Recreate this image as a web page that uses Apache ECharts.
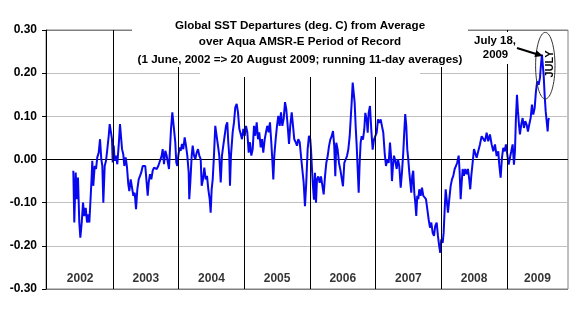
<!DOCTYPE html>
<html><head><meta charset="utf-8">
<script src="https://cdn.jsdelivr.net/npm/echarts/dist/echarts.min.js"></script>
<style>html,body{margin:0;padding:0;background:#fff}#c{width:576px;height:336px}</style>
</head><body><div id="c"></div>
<script>
// decimal-year positions of the running-average keypoints
const years = [
2002.396,2002.411,2002.432,2002.452,2002.467,2002.487,2002.503,2002.524,2002.544,2002.563,2002.585,2002.605,2002.624,2002.640,2002.661,2002.676,2002.685,2002.700,2002.722,2002.742,2002.761,2002.783,2002.803,2002.822,2002.838,2002.853,2002.874,2002.894,2002.914,2002.935,2002.950,2002.970,2002.985,2002.996,
2003.011,2003.026,2003.046,2003.066,2003.087,2003.107,2003.122,2003.138,2003.157,2003.173,2003.194,2003.214,2003.233,2003.249,2003.270,2003.290,2003.310,2003.331,2003.351,2003.371,2003.392,2003.412,2003.431,2003.453,2003.473,2003.492,2003.514,2003.529,2003.544,2003.564,2003.584,2003.605,2003.625,
2003.640,2003.666,2003.690,2003.716,2003.742,2003.757,2003.777,2003.797,2003.818,2003.853,2003.868,2003.884,2003.904,2003.919,2003.934,2003.949,2003.964,2003.980,2003.995,
2004.016,2004.031,2004.051,2004.071,2004.092,2004.112,2004.132,2004.153,2004.162,2004.178,2004.199,2004.214,2004.234,2004.254,2004.275,2004.295,2004.315,2004.336,2004.351,2004.371,2004.391,2004.412,2004.432,2004.452,2004.473,2004.488,2004.503,2004.519,2004.538,2004.558,2004.580,2004.599,2004.619,2004.641,2004.660,2004.680,2004.701,2004.721,2004.741,2004.756,2004.771,
2004.782,2004.797,2004.823,2004.843,2004.863,2004.884,2004.904,2004.924,2004.945,2004.965,2004.985,
2005.006,2005.026,2005.046,2005.067,2005.087,2005.107,2005.128,2005.148,2005.167,2005.189,2005.209,2005.228,2005.250,2005.269,2005.289,2005.311,2005.330,2005.350,2005.371,2005.391,2005.411,2005.426,2005.442,2005.457,2005.478,2005.498,2005.518,2005.539,2005.559,2005.579,2005.600,2005.620,2005.639,2005.661,2005.681,2005.700,2005.722,2005.742,2005.761,2005.783,2005.802,2005.822,2005.844,2005.863,2005.883,2005.904,2005.924,2005.944,2005.965,2005.985,
2006.005,2006.016,2006.031,2006.046,2006.061,2006.077,2006.092,2006.107,2006.127,2006.148,2006.168,2006.188,2006.209,2006.229,2006.249,2006.270,2006.290,2006.310,2006.331,2006.351,2006.370,2006.386,2006.401,2006.422,2006.442,2006.462,2006.483,2006.503,2006.523,2006.544,2006.564,2006.584,2006.605,2006.620,2006.635,2006.651,2006.666,2006.681,2006.696,2006.712,2006.727,2006.742,2006.757,2006.772,2006.787,2006.807,2006.827,2006.843,2006.864,2006.879,2006.894,2006.914,2006.934,2006.955,2006.975,2006.995,
2007.016,2007.036,2007.056,2007.077,2007.097,2007.117,2007.138,2007.158,2007.178,2007.199,2007.219,2007.234,2007.249,2007.264,2007.280,2007.299,2007.321,2007.340,2007.360,2007.382,2007.401,2007.421,2007.436,2007.451,2007.467,2007.482,2007.497,2007.513,2007.528,2007.543,2007.558,2007.573,2007.589,2007.604,2007.619,2007.634,2007.650,2007.665,2007.686,2007.706,2007.726,2007.747,2007.767,2007.787,2007.808,2007.828,2007.848,2007.869,2007.889,2007.908,2007.930,2007.949,2007.969,2007.984,
2008.000,2008.021,2008.036,2008.052,2008.067,2008.082,2008.102,2008.122,2008.143,2008.163,2008.183,2008.204,2008.224,2008.243,2008.265,2008.280,2008.295,2008.311,2008.326,2008.345,2008.365,2008.387,2008.406,2008.426,2008.441,2008.457,2008.478,2008.498,2008.513,2008.539,2008.563,2008.589,2008.615,2008.639,2008.665,2008.691,2008.715,2008.741,2008.767,2008.792,2008.818,2008.843,2008.868,2008.883,2008.904,2008.924,2008.944,2008.965,2008.985,
2009.005,2009.026,2009.046,2009.066,2009.087,2009.107,2009.122,2009.137,2009.153,2009.168,2009.183,2009.198,2009.218,2009.239,2009.259,2009.279,2009.300,2009.320,2009.340,2009.361,2009.381,2009.401,2009.422,2009.442,2009.461,2009.483,2009.503,2009.518,2009.533,2009.544,2009.559,2009.574,2009.590,2009.605,2009.620,2009.629,2009.640
];
// SST departures (deg. C)
const sst = [
-0.026,-0.146,-0.030,-0.092,-0.042,-0.146,-0.181,-0.146,-0.100,-0.131,-0.112,-0.146,-0.127,-0.146,-0.084,-0.038,-0.003,-0.061,-0.015,-0.022,0.005,0.016,0.047,0.001,-0.015,-0.100,-0.015,-0.003,0.024,0.055,0.082,0.086,0.047,-0.007,
0.032,-0.003,0.009,-0.011,0.032,0.082,0.078,0.024,0.012,-0.015,0.005,-0.019,-0.057,-0.073,-0.046,-0.065,-0.084,-0.077,-0.115,-0.069,-0.046,-0.038,-0.030,-0.015,-0.011,-0.015,-0.019,-0.084,-0.053,-0.034,-0.046,-0.026,-0.019,
-0.019,-0.022,-0.015,-0.011,0.009,0.024,-0.011,0.020,0.009,-0.022,0.024,0.071,0.109,0.109,0.063,0.040,-0.007,-0.015,0.009,
0.028,0.020,0.036,0.024,0.051,0.032,0.009,-0.030,-0.092,-0.053,0.009,0.032,0.009,0.001,0.016,0.024,0.009,0.001,-0.061,-0.046,-0.019,-0.046,-0.038,-0.069,-0.092,-0.123,-0.069,-0.046,0.009,0.078,0.078,0.032,0.009,-0.053,0.009,0.032,0.055,0.078,0.086,0.040,0.009,
-0.061,0.009,0.063,0.086,0.121,0.129,0.109,0.071,0.059,0.047,0.071,
0.055,0.078,0.063,0.016,0.040,0.009,0.024,0.078,0.055,0.086,0.047,0.063,0.028,0.047,0.016,0.047,0.063,0.078,0.063,0.086,0.040,0.001,-0.046,0.009,0.047,0.078,0.101,0.078,0.109,0.078,0.094,0.133,0.117,0.078,0.036,0.078,0.109,0.078,0.047,0.040,0.032,0.047,0.040,0.009,-0.022,-0.053,-0.108,-0.053,0.024,0.055,
0.047,0.023,-0.023,-0.062,-0.093,-0.031,-0.100,-0.046,-0.039,-0.054,-0.039,-0.039,-0.081,-0.039,-0.008,0.008,0.031,0.046,0.054,0.066,0.031,-0.039,0.039,0.023,-0.008,-0.023,-0.023,-0.062,-0.008,0.000,0.008,0.023,0.054,0.093,0.131,0.178,0.181,0.131,0.077,0.031,-0.023,-0.077,-0.008,0.039,0.054,0.046,0.069,0.108,0.093,0.062,0.108,0.124,0.069,0.023,0.046,0.046,
0.062,0.093,0.085,0.093,0.077,0.062,0.015,-0.015,0.000,-0.008,0.039,0.009,-0.050,-0.015,0.009,-0.003,-0.022,0.001,-0.015,-0.065,-0.030,0.016,0.063,0.105,0.078,0.024,0.001,-0.030,-0.053,-0.077,-0.038,-0.026,-0.077,-0.100,-0.131,-0.084,-0.092,-0.069,-0.084,-0.065,-0.084,-0.084,-0.092,-0.115,-0.139,-0.158,-0.146,-0.170,-0.177,-0.154,-0.146,-0.177,-0.201,-0.216,
-0.185,-0.193,-0.170,-0.115,-0.069,-0.092,-0.123,-0.092,-0.061,-0.046,-0.038,-0.022,-0.015,-0.007,0.009,-0.030,-0.092,-0.053,-0.022,-0.038,-0.022,-0.034,-0.022,-0.046,-0.069,-0.038,-0.007,0.024,0.023,0.004,0.019,0.035,0.054,0.058,0.042,0.062,0.042,0.058,0.035,0.019,0.035,0.008,0.019,-0.012,-0.042,0.004,0.027,0.019,0.035,
0.012,-0.012,0.004,0.019,0.035,-0.012,0.019,0.096,0.150,0.112,0.081,0.058,0.081,0.096,0.073,0.089,0.081,0.065,0.081,0.096,0.127,0.104,0.119,0.158,0.181,0.173,0.189,0.219,0.243,0.239,0.196,0.150,0.112,0.089,0.065,0.089,0.096
];
const yearLines = [2003, 2004, 2005, 2006, 2007, 2008, 2009];
const yearNames = ['2002','2003','2004','2005','2006','2007','2008','2009'];
const titleLines = [
  'Global SST Departures (deg. C) from Average',
  'over Aqua AMSR-E Period of Record',
  '(1 June, 2002 => 20 August 2009; running 11-day averages)'
];
const noteLines = ['July 18,', '2009'];
const noteMonth = 'JULY';

const xMin = 2001.98, xMax = 2009.93;
const FONT = '"Liberation Sans", Arial, sans-serif';

const labelData = yearNames.map(n => {
  const y0 = Math.max(+n, xMin), y1 = Math.min(+n + 1, xMax);
  return [(y0 + y1) / 2, -0.277, n];
});

const chart = echarts.init(document.getElementById('c'), null, {renderer: 'canvas'});
const txt = (text, x, y, size, extra) => Object.assign({
  type: 'text', x: x, y: y, z: 102,
  style: {text: text, font: 'bold ' + size + 'px ' + FONT, fill: '#000',
    align: 'center', verticalAlign: 'middle', textAlign: 'center', textVerticalAlign: 'middle'}
}, extra || {});

chart.setOption({
  animation: false,
  backgroundColor: '#fff',
  grid: {left: 46, right: 8, top: 30, bottom: 47, show: true, borderColor: '#808080', borderWidth: 1},
  xAxis: {type: 'value', min: xMin, max: xMax,
    axisLine: {show: false}, axisTick: {show: false}, axisLabel: {show: false}, splitLine: {show: false}},
  yAxis: {type: 'value', min: -0.3, max: 0.3, interval: 0.1,
    axisLine: {show: true, lineStyle: {color: '#000', width: 1}},
    axisTick: {show: true, length: 4, lineStyle: {color: '#000'}},
    axisLabel: {margin: 9, color: '#000', fontFamily: FONT, fontWeight: 'bold', fontSize: 12,
      formatter: v => Math.abs(v) < 1e-9 ? '0.00' : v.toFixed(2)},
    splitLine: {show: true, lineStyle: {width: 1,
      color: ['#808080', '#c0c0c0', '#c0c0c0', '#000000', '#c0c0c0', '#c0c0c0', '#808080']}}
  },
  series: [
    {type: 'scatter', z: 1, symbolSize: 0, data: labelData,
      label: {show: true, position: 'inside', formatter: p => p.value[2],
        color: '#000', fontFamily: FONT, fontWeight: 'bold', fontSize: 12},
      markLine: {silent: true, symbol: ['none', 'none'], label: {show: false},
        lineStyle: {color: '#000', width: 1, type: 'solid'},
        data: yearLines.map(y => ({xAxis: y}))}
    },
    {type: 'line', z: 3, data: years.map((y, i) => [y, sst[i]]), showSymbol: false, symbol: 'none',
      lineStyle: {color: '#0808F0', width: 2}}
  ],
  graphic: [
    {type: 'rect', z: 100, shape: {x: 132, y: 0, width: 336, height: 67}, style: {fill: '#fff'}},
    {type: 'rect', z: 100, shape: {x: 200, y: 66, width: 220, height: 11}, style: {fill: '#fff'}},
    {type: 'rect', z: 100, shape: {x: 474, y: 32, width: 42, height: 32}, style: {fill: '#fff'}},
    txt(titleLines[0], 300, 26, 11.6),
    txt(titleLines[1], 300, 42, 11.6),
    txt(titleLines[2], 300, 60, 11.6),
    txt(noteLines[0], 495, 41, 11.4),
    txt(noteLines[1], 495.5, 55, 11.4),
    {type: 'ellipse', z: 101, shape: {cx: 545.3, cy: 65.7, rx: 9.7, ry: 33.3},
      style: {fill: 'none', stroke: '#333', lineWidth: 1}},
    txt(noteMonth, 549.5, 64, 11, {rotation: Math.PI / 2}),
    {type: 'line', z: 102, shape: {x1: 517, y1: 48, x2: 537, y2: 54.2}, style: {stroke: '#000', lineWidth: 2}},
    {type: 'polygon', z: 102, shape: {points: [[543, 56], [534.4, 56.9], [536.4, 50.2]]}, style: {fill: '#000'}}
  ]
});
</script>
</body></html>
